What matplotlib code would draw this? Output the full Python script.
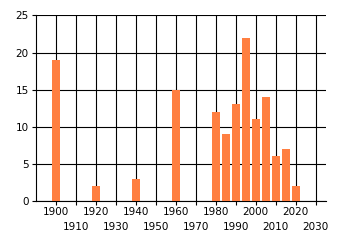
import numpy as np
import matplotlib.pyplot as plt

years = [1900, 1920, 1940, 1960, 1980, 1985, 1990, 1995, 2000, 2005, 2010, 2015, 2020]
counts = [19, 2, 3, 15, 12, 9, 13, 22, 11, 14, 6, 7, 2]
even_decades = list(range(1900, 2021, 20))
odd_decades = list(range(1910, 2031, 20))
yticks = [0, 5, 10, 15, 20, 25]

fig = plt.figure(figsize=(3.4, 2.45), dpi=100)
ax = fig.add_axes([0.105, 0.18, 0.853, 0.757])

ax.bar(years, counts, width=4, color='#ff7f41', zorder=3)

ax.set_xlim(1890, 2035)
ax.set_ylim(0, 25)
ax.set_xticks(even_decades)
ax.set_xticklabels([str(d) for d in even_decades])
ax.set_xticks(odd_decades, minor=True)
ax.set_xticklabels([str(d) for d in odd_decades], minor=True)
ax.set_yticks(yticks)
ax.tick_params(axis='both', which='both', labelsize=7.5, length=3, width=0.8, colors='black')
ax.tick_params(axis='x', which='major', pad=1.5)
ax.tick_params(axis='x', which='minor', pad=12)
ax.tick_params(axis='y', pad=2)

ax.grid(True, axis='y', color='black', linewidth=0.8, zorder=0)
ax.grid(True, axis='x', which='both', color='black', linewidth=0.8, zorder=0)
for s in ['top', 'right']:
    ax.spines[s].set_visible(False)
ax.spines['left'].set_linewidth(0.8)
ax.spines['bottom'].set_linewidth(0.8)

fig.savefig('out.png', dpi=100)
